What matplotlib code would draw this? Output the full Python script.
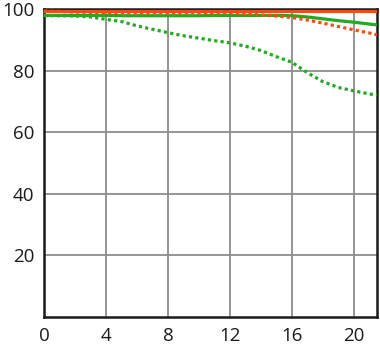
import numpy as np
import matplotlib
matplotlib.use("Agg")
import matplotlib.pyplot as plt

# image height (mm) vs contrast (%)
x_pos = [0, 1, 2, 3, 4, 5, 6, 7, 8, 9, 10, 11, 12, 13, 14, 15, 16, 17, 18, 19, 20, 21, 21.5]
sag_orange = [99.3] * len(x_pos)
mer_orange = [99.3, 99.2, 99.0, 98.9, 98.8, 98.7, 98.7, 98.7, 98.7, 98.7, 98.7, 98.7,
              98.7, 98.4, 98.05, 97.7, 97.2, 96.4, 95.4, 94.3, 93.2, 92.2, 91.6]
sag_green = [97.9, 97.9, 97.9, 97.9, 97.9, 97.8, 97.8, 97.8, 97.8, 97.8, 97.8, 97.9,
             97.9, 97.9, 97.9, 97.9, 97.8, 97.4, 96.8, 96.2, 95.7, 95.1, 94.8]
mer_green = [97.8, 97.8, 97.7, 97.4, 96.6, 95.9, 94.5, 93.4, 92.3, 91.3, 90.5, 89.7,
             89.0, 87.9, 86.5, 84.5, 82.7, 79.3, 76.4, 74.5, 73.4, 72.4, 72.0]

x_ticks = [0, 4, 8, 12, 16, 20]
y_ticks = [20, 40, 60, 80, 100]

ORANGE = '#ff4a0f'
GREEN = '#22aa22'

plt.rcParams['font.family'] = ['Open Sans', 'DejaVu Sans']

fig = plt.figure(figsize=(3.8, 3.44), dpi=100)
ax = fig.add_axes([0.116, 0.079, 0.876, 0.895])

dot = (0, (1, 1))
ax.plot(x_pos, mer_green, color=GREEN, lw=2.3, linestyle=dot, zorder=3)
ax.plot(x_pos, sag_green, color=GREEN, lw=2.3, zorder=3)
ax.plot(x_pos, mer_orange, color=ORANGE, lw=2.3, linestyle=dot, zorder=4)
ax.plot(x_pos, sag_orange, color=ORANGE, lw=2.3, zorder=4)

ax.set_xlim(0, 21.5)
ax.set_ylim(0, 100)
ax.set_xticks(x_ticks)
ax.set_yticks(y_ticks)
ax.grid(True, color='#8c8c8c', lw=1.3)
ax.set_axisbelow(True)
ax.tick_params(length=0, labelsize=13.5, pad=7, colors='#1a1a1a')
for s in ax.spines.values():
    s.set_linewidth(1.8)
    s.set_color('#1a1a1a')

fig.savefig("out.png", dpi=100)
